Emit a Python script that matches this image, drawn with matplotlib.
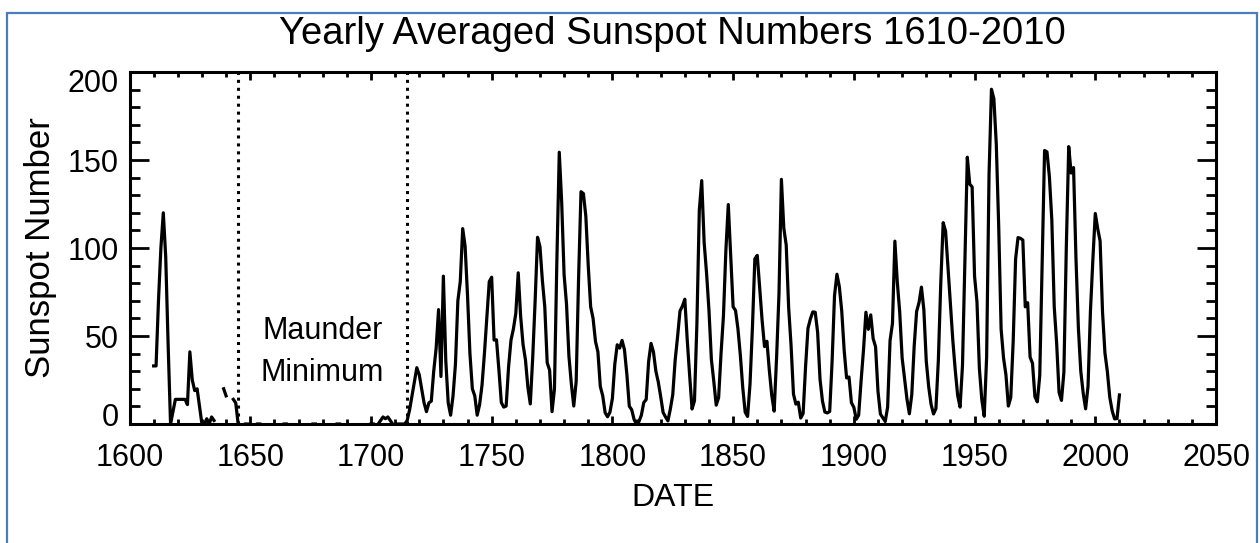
import numpy as np
import matplotlib
matplotlib.use("Agg")
import matplotlib.pyplot as plt
from matplotlib.patches import Rectangle
from matplotlib.transforms import ScaledTranslation
from matplotlib.ticker import MultipleLocator

nan = np.nan

# ---- data (yearly averaged sunspot numbers) ----
early_years = list(range(1610, 1646))
early_vals = [33, 33, 70, 100, 120, 95, 45, 0, 7, 14,
              14, 14, 14, 14, 11, 41, 25, 19, 20, 10,
              0, 0, 3, 0, 4, 2, nan, nan, nan, 20,
              16, nan, nan, 14, 12, 0]

maunder_years = list(range(1646, 1715))
maunder_vals = [nan, nan, 0, 0, nan, nan, nan, 0, 0, nan,
                nan, 0, nan, nan, nan, 0, nan, nan, 0, 0,
                nan, nan, nan, 0, nan, nan, 0, nan, nan, nan,
                0, 0, nan, nan, 0, nan, nan, nan, 0, nan,
                0, 0, nan, nan, nan, 0, nan, nan, 0, nan,
                nan, 0, nan, nan, 0, 0, nan, 0, 2, 4,
                3, 4, 2, 0, nan, 0, 0, 0, 0]

trans_years = list(range(1715, 1736))
trans_vals = [2, 8, 16, 24, 32, 28, 20, 12, 7, 12,
              13, 30, 43, 65, 27, 84, 36, 12, 5, 16, 34]

modern_years = list(range(1736, 2011))
modern_vals = [
    70.0, 81.0, 111.0, 101.0, 73.0, 40.0, 20.0, 16.0, 5.0, 11.0,
    22.0, 40.0, 60.0, 80.9, 83.4, 47.7, 47.8, 30.7, 12.2, 9.6,
    10.2, 32.4, 47.6, 54.0, 62.9, 85.9, 61.2, 45.1, 36.4, 20.9,
    11.4, 37.8, 69.8, 106.1, 100.8, 81.6, 66.5, 34.8, 30.6, 7.0,
    19.8, 92.5, 154.4, 125.9, 84.8, 68.1, 38.5, 22.8, 10.2, 24.1,
    82.9, 132.0, 130.9, 118.1, 89.9, 66.6, 60.0, 46.9, 41.0, 21.3,
    16.0, 6.4, 4.1, 6.8, 14.5, 34.0, 45.0, 43.1, 47.5, 42.2,
    28.1, 10.1, 8.1, 2.5, 0.0, 1.4, 5.0, 12.2, 13.9, 35.4,
    45.8, 41.0, 30.1, 23.9, 15.6, 6.6, 4.0, 1.8, 8.5, 16.6,
    36.3, 49.6, 64.2, 67.0, 70.9, 47.8, 27.5, 8.5, 13.2, 56.9,
    121.5, 138.3, 103.2, 85.7, 64.6, 36.7, 24.2, 10.7, 15.0, 40.1,
    61.5, 98.5, 124.7, 96.3, 66.6, 64.5, 54.1, 39.0, 20.6, 6.7,
    4.3, 22.7, 54.8, 93.8, 95.8, 77.2, 59.1, 44.0, 47.0, 30.5,
    16.3, 7.3, 37.6, 74.0, 139.0, 111.2, 101.6, 66.2, 44.7, 17.0,
    11.3, 12.4, 3.4, 6.0, 32.3, 54.3, 59.7, 63.7, 63.5, 52.2,
    25.4, 13.1, 6.8, 6.3, 7.1, 35.6, 73.0, 85.1, 78.0, 64.0,
    41.8, 26.2, 26.7, 12.1, 9.5, 2.7, 5.0, 24.4, 42.0, 63.5,
    53.8, 62.0, 48.5, 43.9, 18.6, 5.7, 3.6, 1.4, 9.6, 47.4,
    57.1, 103.9, 80.6, 63.6, 37.6, 26.1, 14.2, 5.8, 16.7, 44.3,
    63.9, 69.0, 77.8, 64.9, 35.7, 21.2, 11.1, 5.7, 8.7, 36.1,
    79.7, 114.4, 109.6, 88.8, 67.8, 47.5, 30.6, 16.3, 9.6, 33.2,
    92.6, 151.6, 136.3, 134.7, 83.9, 69.4, 31.5, 13.9, 4.4, 38.0,
    141.7, 190.2, 184.8, 159.0, 112.3, 53.9, 37.6, 27.9, 10.2, 15.1,
    47.0, 93.8, 105.9, 105.5, 104.5, 66.6, 68.9, 38.0, 34.5, 15.5,
    12.6, 27.5, 92.5, 155.4, 154.6, 140.4, 115.9, 66.6, 45.9, 17.9,
    13.4, 29.4, 100.2, 157.6, 142.6, 145.7, 94.3, 54.6, 29.9, 17.5,
    8.6, 21.5, 64.3, 93.3, 119.6, 111.0, 104.0, 63.7, 40.4, 29.8,
    15.2, 7.5, 2.9, 3.1, 16.5]

maunder_bounds = [1645, 1715]
x_ticks = [1600, 1650, 1700, 1750, 1800, 1850, 1900, 1950, 2000, 2050]
y_ticks = [0, 50, 100, 150, 200]

title = "Yearly Averaged Sunspot Numbers 1610-2010"
xlabel = "DATE"
ylabel = "Sunspot Number"
note = "Maunder\nMinimum"

# ---- figure ----
plt.rcParams["font.family"] = ["Liberation Sans", "DejaVu Sans"]
fig = plt.figure(figsize=(12.6, 5.43), dpi=100)
W, H = 1260, 543
ax = fig.add_axes([129.5 / W, 1 - 424 / H, (1216 - 129.5) / W, (424 - 72) / H])

years = np.array(early_years + maunder_years + trans_years + modern_years, dtype=float)
vals = np.array(early_vals + maunder_vals + trans_vals + modern_vals, dtype=float)
ax.plot(years, vals, color="black", lw=2.3, solid_joinstyle="round")

for xv in maunder_bounds:
    ax.axvline(xv, color="black", lw=2.2, linestyle=(0, (1, 1.6)))

ax.set_xlim(1600, 2050)
ax.set_ylim(0, 200)
ax.set_xticks(x_ticks)
ax.set_yticks(y_ticks)
ax.xaxis.set_minor_locator(MultipleLocator(10))
ax.yaxis.set_minor_locator(MultipleLocator(10))

ax.tick_params(axis="both", which="both", direction="in", colors="black",
               labelsize=22, width=2.0)
ax.tick_params(axis="x", which="major", length=6, top=True, pad=14)
ax.tick_params(axis="x", which="minor", length=3.5, top=True)
ax.tick_params(axis="y", which="major", length=14, right=True, pad=8)
ax.tick_params(axis="y", which="minor", length=7.5, right=True)
for sp in ax.spines.values():
    sp.set_linewidth(2.2)

# end labels nudged inward like the original
fig.canvas.draw()
ylabs = ax.get_yticklabels()
ylabs[0].set_transform(ylabs[0].get_transform() + ScaledTranslation(0, 9 / 100, fig.dpi_scale_trans))
ylabs[-1].set_transform(ylabs[-1].get_transform() + ScaledTranslation(0, -9 / 100, fig.dpi_scale_trans))

ax.set_title(title, fontsize=27.5, pad=20)
ax.set_xlabel(xlabel, fontsize=23, labelpad=7)
ax.set_ylabel(ylabel, fontsize=25, labelpad=7)

ax.text(1680, 41, note, ha="center", va="center", fontsize=22, linespacing=1.5)

fig.patches.append(Rectangle((7 / W, -0.05), 1250 / W, 1.05 - 13 / H,
                             transform=fig.transFigure, fill=False,
                             edgecolor="#4a7ebb", lw=1.6))

fig.savefig("out.png", dpi=100)
